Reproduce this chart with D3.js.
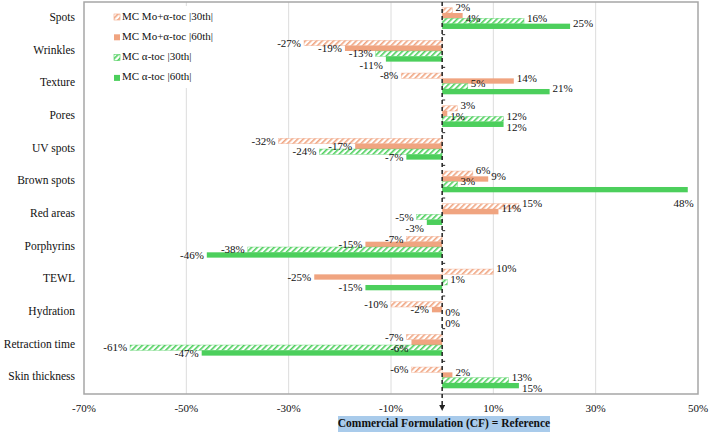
<!DOCTYPE html>
<html>
<head>
<meta charset="utf-8">
<script src="https://cdn.jsdelivr.net/npm/d3@7"></script>
<style>
  body { margin: 0; background: #fff; }
  svg { display: block; font-family: "Liberation Serif", "Times New Roman", serif; }
</style>
</head>
<body>
<div id="chart"></div>
<script>
const categories = [
  "Spots", "Wrinkles", "Texture", "Pores", "UV spots", "Brown spots",
  "Red areas", "Porphyrins", "TEWL", "Hydration", "Retraction time", "Skin thickness",
];
const seriesNames = [
  "MC Mo+α-toc |30th|",
  "MC Mo+α-toc |60th|",
  "MC α-toc |30th|",
  "MC α-toc |60th|",
];
// values in %, one array per series, same order as categories
const moToc30 = [2, -27, -8, 3, -32, 6, 15, -7, 10, -10, -7, -6];
const moToc60 = [4, -19, 14, 1, -17, 9, 11, -15, -25, -2, -6, 2];
const aToc30 = [16, -13, 5, 12, -24, 3, -5, -38, 1, 0, -61, 13];
const aToc60 = [25, -11, 21, 12, -7, 48, -3, -46, -15, 0, -47, 15];
const xTicks = [-70, -50, -30, -10, 10, 30, 50];

const COLORS = {
  orange: "#f0a480",
  green: "#4ccf5c",
  grid: "#dcdcdc",
  border: "#a6a6a6",
  box: "#a9cbeb",
};

const series = [
  { name: seriesNames[0], values: moToc30, color: COLORS.orange, hatch: true },
  { name: seriesNames[1], values: moToc60, color: COLORS.orange, hatch: false },
  { name: seriesNames[2], values: aToc30, color: COLORS.green, hatch: true },
  { name: seriesNames[3], values: aToc60, color: COLORS.green, hatch: false },
];

const width = 709, height = 433;
const plot = { left: 84, right: 698, top: 2, bottom: 394 };

const svg = d3.select("#chart").append("svg")
  .attr("width", width).attr("height", height);

const defs = svg.append("defs");
series.filter((s) => s.hatch).forEach((s, i) => {
  const p = defs.append("pattern")
    .attr("id", "hatch" + i)
    .attr("patternUnits", "userSpaceOnUse")
    .attr("width", 4).attr("height", 4)
    .attr("patternTransform", "rotate(45)");
  p.append("rect").attr("width", 4).attr("height", 4).attr("fill", "#fff");
  p.append("rect").attr("width", 1.6).attr("height", 4).attr("fill", s.color);
  s.fill = "url(#hatch" + i + ")";
});
series.filter((s) => !s.hatch).forEach((s) => { s.fill = s.color; });

const x = d3.scaleLinear().domain([-70, 50]).range([plot.left, plot.right]);
const y = d3.scaleBand().domain(categories).range([plot.top, plot.bottom]);
const pad = 5.7;
const yInner = d3.scaleBand().domain(seriesNames).range([pad, y.bandwidth() - pad]);

// gridlines
svg.append("g").selectAll("line")
  .data(xTicks.slice(1, -1))
  .join("line")
  .attr("x1", (d) => x(d)).attr("x2", (d) => x(d))
  .attr("y1", plot.top).attr("y2", plot.bottom)
  .attr("stroke", COLORS.grid).attr("stroke-width", 1);

// plot border
svg.append("rect")
  .attr("x", plot.left).attr("y", plot.top)
  .attr("width", plot.right - plot.left).attr("height", plot.bottom - plot.top)
  .attr("fill", "none").attr("stroke", COLORS.border).attr("stroke-width", 1.5);

// bars
const barData = [];
series.forEach((s) => {
  s.values.forEach((v, i) => {
    barData.push({ cat: categories[i], value: v, s });
  });
});

svg.append("g").selectAll("rect")
  .data(barData)
  .join("rect")
  .attr("x", (d) => x(Math.min(0, d.value)))
  .attr("y", (d) => y(d.cat) + yInner(d.s.name))
  .attr("width", (d) => Math.abs(x(d.value) - x(0)))
  .attr("height", yInner.bandwidth())
  .attr("fill", (d) => d.s.fill)
  .attr("stroke", (d) => (d.s.hatch ? d.s.color : "none"))
  .attr("stroke-opacity", 0.6)
  .attr("stroke-width", 0.6);

// data labels, pushed down a bit when they collide (like Excel does)
const placed = {};
svg.append("g").selectAll("text")
  .data(barData)
  .join("text")
  .attr("dominant-baseline", "middle")
  .attr("font-size", 11)
  .attr("fill", "#111")
  .text((d) => d.value + "%")
  .each(function (d) {
    const t = d3.select(this);
    const w = this.getComputedTextLength();
    const cy = y(d.cat) + yInner(d.s.name) + yInner.bandwidth() / 2;
    let lx, ly, x0;
    if (x(d.value) + 26 > plot.right) {
      lx = x(d.value) + 6; ly = cy + 15; x0 = lx - w;
      t.attr("text-anchor", "end");
    } else if (d.value >= 0) {
      lx = x(d.value) + 3; ly = cy - 2; x0 = lx;
      t.attr("text-anchor", "start");
    } else {
      lx = x(d.value) - 3; ly = cy + 1; x0 = lx - w;
      t.attr("text-anchor", "end");
    }
    const list = placed[d.cat] || (placed[d.cat] = []);
    const hits = () => list.some((b) =>
      x0 < b.x1 && x0 + w > b.x0 && Math.abs(ly - b.y) < 11);
    let n = 0;
    while (hits() && n < 20) { ly += 1; n++; }
    list.push({ x0, x1: x0 + w, y: ly });
    t.attr("x", lx).attr("y", ly);
  });

// dashed zero line with arrow
defs.append("marker")
  .attr("id", "arrow")
  .attr("viewBox", "0 0 10 10")
  .attr("refX", 5).attr("refY", 5)
  .attr("markerWidth", 4).attr("markerHeight", 4)
  .attr("orient", "auto")
  .append("path").attr("d", "M0,0 L10,5 L0,10 z").attr("fill", "#222");

svg.append("line")
  .attr("x1", x(0)).attr("x2", x(0))
  .attr("y1", plot.top).attr("y2", 408)
  .attr("stroke", "#222").attr("stroke-width", 1.5)
  .attr("stroke-dasharray", "4,3")
  .attr("marker-end", "url(#arrow)");

// small ticks on zero axis at band boundaries
svg.append("g").selectAll("line")
  .data(categories.slice(1))
  .join("line")
  .attr("x1", x(0)).attr("x2", x(0) + 3)
  .attr("y1", (d) => y(d)).attr("y2", (d) => y(d))
  .attr("stroke", "#222").attr("stroke-width", 1);

// category labels
svg.append("g").selectAll("text")
  .data(categories)
  .join("text")
  .attr("x", 75)
  .attr("y", (d) => y(d) + y.bandwidth() / 2)
  .attr("text-anchor", "end")
  .attr("dominant-baseline", "middle")
  .attr("font-size", 11.5)
  .attr("fill", "#111")
  .text((d) => d);

// x tick labels
svg.append("g").selectAll("text")
  .data(xTicks)
  .join("text")
  .attr("x", (d) => x(d))
  .attr("y", 409)
  .attr("text-anchor", "middle")
  .attr("dominant-baseline", "middle")
  .attr("font-size", 11)
  .attr("fill", "#111")
  .text((d) => d + "%");

// reference box
const box = svg.append("g");
box.append("rect")
  .attr("x", 338).attr("y", 416)
  .attr("width", 212).attr("height", 16)
  .attr("fill", COLORS.box);
box.append("text")
  .attr("x", 444).attr("y", 424.5)
  .attr("text-anchor", "middle")
  .attr("dominant-baseline", "middle")
  .attr("font-size", 11.5)
  .attr("font-weight", "bold")
  .attr("fill", "#111")
  .text("Commercial Formulation (CF) = Reference");

// legend
const legend = svg.append("g");
legend.append("rect")
  .attr("x", 110).attr("y", 6)
  .attr("width", 110).attr("height", 82)
  .attr("fill", "#fff");
const item = legend.selectAll("g")
  .data(series)
  .join("g")
  .attr("transform", (d, i) => `translate(114,${17 + i * 20.3})`);
item.append("rect")
  .attr("x", 0).attr("y", -3)
  .attr("width", 6).attr("height", 6)
  .attr("fill", (d) => d.fill)
  .attr("stroke", (d) => (d.hatch ? d.color : "none"))
  .attr("stroke-width", 0.6);
item.append("text")
  .attr("x", 8).attr("y", 0)
  .attr("dominant-baseline", "middle")
  .attr("font-size", 11)
  .attr("fill", "#111")
  .text((d) => d.name);
</script>
</body>
</html>
